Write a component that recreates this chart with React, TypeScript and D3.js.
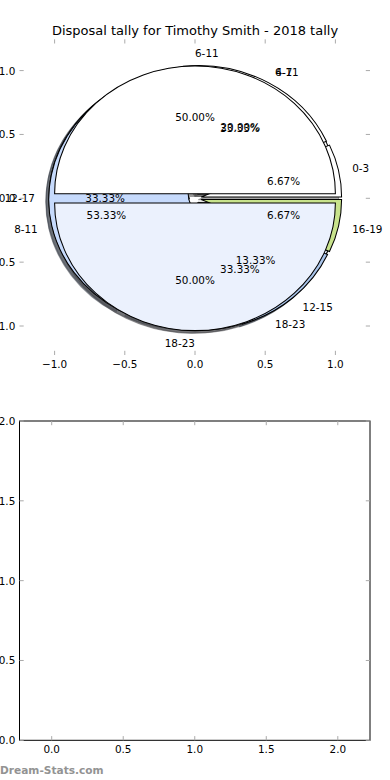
import React from 'react';
import * as d3 from 'd3';

const titleText = 'Disposal tally for Timothy Smith - 2018 tally';
const watermark = 'Dream-Stats.com';

// pie drawn first (bins of six)
const binsB = ['6-11', '12-17', '18-23'];
const countsB = [1, 1, 1];
const coloursB = ['#ffffff', '#c6dafc', '#ebf1fd'];
const explodeB = 0.04;

// pie drawn second (bins of four)
const binsA = ['0-3', '4-7', '8-11', '12-15', '16-19'];
const countsA = [1, 3, 8, 2, 1];
const coloursA = ['#ffffff', '#ffffff', '#c6dafc', '#a9c4ea', '#c8e38c'];
const explodeA = 0.045;

// pie drawn last
const binsC = ['6-11', '18-23'];
const countsC = [1, 1];
const coloursC = ['#ffffff', '#ebf1fd'];
const explodeC = 0.036;

const pieTicks = [-1, -0.5, 0, 0.5, 1];
const blankTicksX = [0, 0.5, 1, 1.5, 2];
const blankTicksY = [0, 0.5, 1, 1.5, 2];

const FONT = 'DejaVu Sans, Bitstream Vera Sans, sans-serif';
const FS = 10.42;

function fmtTick(v: number) {
  const s = Math.abs(v).toFixed(1);
  return v < 0 ? '\u2212' + s : s;
}

function darken(c: string) {
  const col = d3.rgb(c);
  return d3.rgb(col.r * 0.3, col.g * 0.3, col.b * 0.3).formatRgb();
}

export default function App() {
  // top (pie) axes
  const px = d3.scaleLinear().domain([-1.25, 1.25]).range([19.5, 370.5]);
  const py = d3.scaleLinear().domain([-1.227, 1.245]).range([355, 39.3]);
  const ux = px(1) - px(0);
  const uy = py(0) - py(1);
  const top = { x0: 19.5, x1: 370, y0: 39.3, y1: 355 };

  // bottom (empty) axes
  const bx = d3.scaleLinear().domain([-0.225, 2.225]).range([19.5, 370]);
  const by = d3.scaleLinear().domain([0, 2]).range([740.3, 421]);

  const pieGen = d3
    .pie<number>()
    .sort(null)
    .value((d) => d)
    .startAngle(Math.PI / 2)
    .endAngle(Math.PI / 2 - 2 * Math.PI);
  const arcGen = d3.arc<any>().innerRadius(0).outerRadius(1);

  const pies = [
    { bins: binsB, counts: countsB, colours: coloursB, explode: explodeB },
    { bins: binsA, counts: countsA, colours: coloursA, explode: explodeA },
    { bins: binsC, counts: countsC, colours: coloursC, explode: explodeC },
  ];

  const wedges: any[] = [];
  pies.forEach((p, pi) => {
    const total = d3.sum(p.counts);
    pieGen(p.counts).forEach((a, i) => {
      const mid = (a.startAngle + a.endAngle) / 2;
      const theta = Math.PI / 2 - mid;
      const dx = p.explode * Math.cos(theta);
      const dy = p.explode * Math.sin(theta);
      const lx = dx + 1.1 * Math.cos(theta);
      const ly = dy + 1.1 * Math.sin(theta);
      const tx = dx + 0.6 * Math.cos(theta);
      const ty = dy + 0.6 * Math.sin(theta);
      wedges.push({
        key: pi + '-' + i,
        path: arcGen({ startAngle: a.startAngle, endAngle: a.endAngle }),
        colour: p.colours[i],
        dx,
        dy,
        label: p.bins[i],
        lx,
        ly,
        anchor: lx > 0 ? 'start' : 'end',
        pct: ((100 * p.counts[i]) / total).toFixed(2) + '%',
        tx,
        ty,
      });
    });
  });

  const shadowOff = (0.02 * 75) / 72;
  const tickCol = '#aaaaaa';

  return (
    <svg
      width={390}
      height={780}
      viewBox="0 0 390 780"
      style={{ position: 'absolute', left: 0, top: 0, display: 'block', background: '#fff' }}
      fontFamily={FONT}
    >
      <rect x={0} y={0} width={390} height={780} fill="#fff" />
      {/* title */}
      <text x={195} y={34.5} textAnchor="middle" fontSize={13} fill="#000">
        {titleText}
      </text>

      {/* shadows */}
      {wedges.map((w) => (
        <g
          key={'s' + w.key}
          transform={`translate(${px(w.dx)},${py(w.dy)}) scale(${ux},${uy}) translate(${-shadowOff},${shadowOff})`}
        >
          <path
            d={w.path}
            fill={darken(w.colour)}
            fillOpacity={0.5}
            stroke={darken(w.colour)}
            strokeOpacity={0.5}
            strokeWidth={1.04}
            vectorEffect="non-scaling-stroke"
          />
        </g>
      ))}
      {/* wedges */}
      {wedges.map((w) => (
        <g key={'w' + w.key} transform={`translate(${px(w.dx)},${py(w.dy)}) scale(${ux},${uy})`}>
          <path
            d={w.path}
            fill={w.colour}
            stroke="#000"
            strokeWidth={1.04}
            strokeLinejoin="miter"
            vectorEffect="non-scaling-stroke"
          />
        </g>
      ))}
      {/* wedge labels */}
      {wedges.map((w) => (
        <g key={'t' + w.key} fontSize={FS} fill="#000">
          <text x={px(w.lx)} y={py(w.ly)} textAnchor={w.anchor} dominantBaseline="central">
            {w.label}
          </text>
          <text x={px(w.tx)} y={py(w.ty)} textAnchor="middle" dominantBaseline="central">
            {w.pct}
          </text>
        </g>
      ))}

      {/* top axes ticks (no spines) */}
      {pieTicks.map((t) => (
        <g key={'pt' + t} stroke={tickCol} strokeWidth={1}>
          <line x1={top.x0} x2={top.x0 + 4.2} y1={py(t)} y2={py(t)} />
          <line x1={top.x1} x2={top.x1 - 4.2} y1={py(t)} y2={py(t)} />
          <line x1={px(t)} x2={px(t)} y1={top.y0} y2={top.y0 + 4.2} />
          <line x1={px(t)} x2={px(t)} y1={top.y1} y2={top.y1 - 4.2} />
        </g>
      ))}
      {pieTicks.map((t) => (
        <g key={'ptl' + t} fontSize={FS} fill="#000">
          <text x={top.x0 - 4.2} y={py(t)} textAnchor="end" dominantBaseline="central">
            {fmtTick(t)}
          </text>
          <text x={px(t)} y={top.y1 + 13} textAnchor="middle">
            {fmtTick(t)}
          </text>
        </g>
      ))}

      {/* bottom axes */}
      <rect
        x={bx(-0.225)}
        y={by(2)}
        width={bx(2.225) - bx(-0.225)}
        height={by(0) - by(2)}
        fill="none"
        stroke="#000"
        strokeWidth={1}
      />
      {blankTicksX.map((t) => (
        <g key={'bx' + t}>
          <line x1={bx(t)} x2={bx(t)} y1={by(0)} y2={by(0) - 4.2} stroke={tickCol} />
          <line x1={bx(t)} x2={bx(t)} y1={by(2)} y2={by(2) + 4.2} stroke={tickCol} />
          <text x={bx(t)} y={by(0) + 13} textAnchor="middle" fontSize={FS} fill="#000">
            {fmtTick(t)}
          </text>
        </g>
      ))}
      {blankTicksY.map((t) => (
        <g key={'by' + t}>
          <line x1={bx(-0.225)} x2={bx(-0.225) + 4.2} y1={by(t)} y2={by(t)} stroke={tickCol} />
          <line x1={bx(2.225)} x2={bx(2.225) - 4.2} y1={by(t)} y2={by(t)} stroke={tickCol} />
          <text
            x={bx(-0.225) - 4.2}
            y={by(t)}
            textAnchor="end"
            dominantBaseline="central"
            fontSize={FS}
            fill="#000"
          >
            {fmtTick(t)}
          </text>
        </g>
      ))}

      {/* watermark */}
      <text x={0} y={774} fontSize={10.6} fontWeight={600} fill="#939393">
        {watermark}
      </text>
    </svg>
  );
}
